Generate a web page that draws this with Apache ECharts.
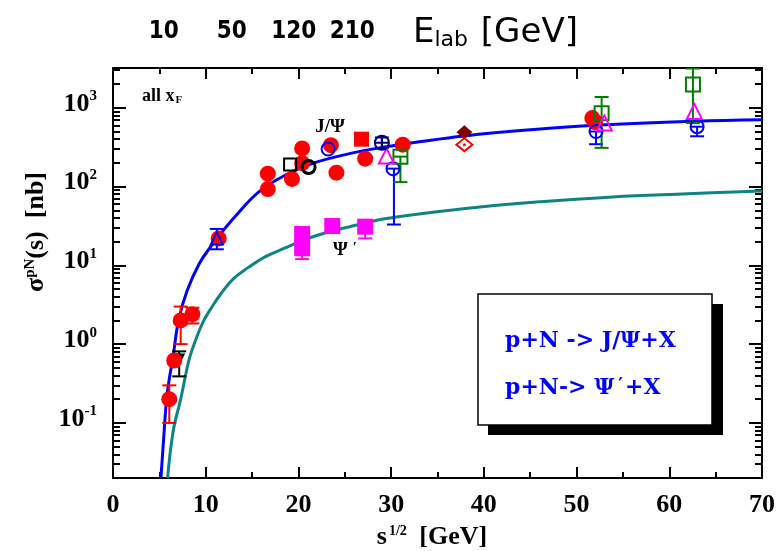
<!DOCTYPE html>
<html>
<head>
<meta charset="utf-8">
<script src="https://cdn.jsdelivr.net/npm/echarts@6/dist/echarts.min.js"></script>
<style>html,body{margin:0;padding:0;background:#fff}#c{width:778px;height:551px}</style>
</head>
<body>
<div id="c"></div>
<script>
// ---- data ----
const jpsiCurve = [[5.17,0.02],[5.45,0.06],[5.78,0.2],[6.1,0.38],[6.43,0.63],[7.07,2.0],[8.0,4.8],[9.3,10.5],[10.5,17],[11.46,24],[13.2,42],[15.7,85],[18.6,140],[21.4,195],[25.4,260],[29.3,318],[33,370],[37.9,440],[45,525],[52.1,600],[62.8,676],[70,707]];
const psipCurve = [[5.89,0.02],[6.5,0.08],[7.3,0.2],[8.2,0.63],[9.0,1.2],[9.8,2.0],[10.7,3.0],[11.6,4.3],[13.0,6.8],[14.65,9.5],[16.5,13],[18.5,16.5],[20.35,20.5],[22.5,25],[24.3,28.6],[27,34],[29.3,39],[33,45],[39.6,55],[46,64],[53.9,74],[62,81],[70,88]];

const redCircles = [[6.07,0.2],[6.6,0.62],[7.3,2.0],[8.56,2.4],[11.4,22],[16.7,146],[16.7,93],[19.3,125],[20.4,305],[20.4,198],[23.5,335],[24.1,150],[27.2,226],[31.25,340],[51.7,740],[52.0,660]];
const redSquares = [[26.8,400]];
const magentaSquares = [[20.4,25],[20.4,16.5],[23.65,31.6],[27.2,31]];
const blueOpenCircles = [[23.2,300],[30.2,169],[52.1,500],[63.0,575]];
const blueOpenTriangles = [[11.2,22]];
const greenOpenSquares = [[31.0,240],[52.7,855],[62.55,1970]];
const magentaOpenTriangles = [[29.5,245],[53.0,640],[62.7,900]];
const darkBlueCrossCircles = [[29.0,360]];
const darkRedDiamonds = [[37.9,490]];
const redOpenDiamonds = [[37.9,340]];
const blackOpenSquares = [[19.1,190]];
const blackOpenCircles = [[21.1,177]];
const blackTrianglesDown = [[7.14,0.64]];

// error bars: [x, low, high]
const redErr = [[6.07,0.1,0.3],[7.3,1.0,3.0],[8.56,1.83,2.9]];
const blackErr = [[7.14,0.39,0.81]];
const blueErr = [[11.2,16,29],[30.3,33,169],[52.1,345,500],[63.0,435,575]];
const magentaErr = [[20.4,12,25],[27.2,22,31]];
const greenErr = [[31.0,114,240],[52.7,310,1370],[62.55,640,3150]];
const darkBlueErr = [[29.0,310,420]];

// axis tick values / labels
const yMajor = [0.1,1,10,100,1000];
const yMinor = [0.02,0.03,0.04,0.05,0.06,0.07,0.08,0.09,0.2,0.3,0.4,0.5,0.6,0.7,0.8,0.9,2,3,4,5,6,7,8,9,20,30,40,50,60,70,80,90,200,300,400,500,600,700,800,900,2000,3000];
const topLabelPos = [5.48,12.82,19.5,25.8];
const topLabelText = ['10','50','120','210'];

// ---- chart ----
const SERIF = "'Liberation Serif','DejaVu Serif',serif";
const chart = echarts.init(document.getElementById('c'), null, {renderer:'canvas'});

function errSeries(data, color) {
  return {
    type:'custom', data:data, z:2, clip:true,
    encode:{x:0, y:[1,2]},
    renderItem:function(params, api){
      const x = api.value(0), lo = api.value(1), hi = api.value(2);
      const a = api.coord([x, lo]), b = api.coord([x, hi]);
      const w = 7;
      const st = {stroke:color, lineWidth:2};
      return {type:'group', children:[
        {type:'line', shape:{x1:a[0],y1:a[1],x2:b[0],y2:b[1]}, style:st},
        {type:'line', shape:{x1:a[0]-w,y1:a[1],x2:a[0]+w,y2:a[1]}, style:st},
        {type:'line', shape:{x1:b[0]-w,y1:b[1],x2:b[0]+w,y2:b[1]}, style:st}
      ]};
    }
  };
}
function filled(data, symbol, size, color, rot) {
  return {type:'scatter', data:data, symbol:symbol, symbolSize:size, symbolRotate:rot||0, z:4,
    itemStyle:{color:color, opacity:1}};
}
function open(data, symbol, size, color, bw) {
  return {type:'scatter', data:data, symbol:symbol, symbolSize:size, z:5,
    itemStyle:{color:'rgba(0,0,0,0)', borderColor:color, borderWidth:bw||2, opacity:1}};
}
function logTickAxis(position, values, len, showLine) {
  return {type:'log', logBase:10, min:0.02, max:3200, position:position,
    axisLine:{show:!!showLine, onZero:false, lineStyle:{color:'#000', width:2}},
    splitLine:{show:false}, axisLabel:{show:false},
    axisTick:{show:true, inside:true, length:len, customValues:values, lineStyle:{color:'#000', width:2}}};
}

const option = {
  animation:false,
  backgroundColor:'#fff',
  grid:{left:113, right:12, top:68, bottom:73},
  xAxis:[
    {type:'value', min:0, max:70, interval:10, position:'bottom',
      axisLine:{show:true, onZero:false, lineStyle:{color:'#000', width:2}},
      axisTick:{show:true, inside:true, length:11, lineStyle:{color:'#000', width:2}},
      minorTick:{show:true, splitNumber:2, length:6, lineStyle:{color:'#000', width:2}},
      splitLine:{show:false}, minorSplitLine:{show:false},
      axisLabel:{margin:14, color:'#000', fontFamily:SERIF, fontWeight:'bold', fontSize:26}},
    {type:'value', min:0, max:70, interval:10, position:'top',
      axisLine:{show:true, onZero:false, lineStyle:{color:'#000', width:2}},
      axisTick:{show:true, inside:true, length:11, lineStyle:{color:'#000', width:2}},
      minorTick:{show:true, splitNumber:2, length:6, lineStyle:{color:'#000', width:2}},
      splitLine:{show:false},
      axisLabel:{customValues:topLabelPos, margin:24, color:'#000',
        fontFamily:"'Liberation Sans Narrow','DejaVu Sans Condensed',sans-serif", fontWeight:'bold', fontSize:24,
        formatter:function(v){const i = topLabelPos.indexOf(v); return i>=0 ? topLabelText[i] : '';}}}
  ],
  yAxis:[
    {type:'log', logBase:10, min:0.02, max:3200, position:'left',
      axisLine:{show:true, onZero:false, lineStyle:{color:'#000', width:2}},
      axisTick:{show:true, inside:true, length:13, customValues:yMajor, lineStyle:{color:'#000', width:2}},
      splitLine:{show:false},
      axisLabel:{customValues:yMajor, margin:16, padding:[0,0,8,0],
        formatter:function(v){return '{m|10}{s|' + Math.round(Math.log10(v)) + '}';},
        rich:{
          m:{fontFamily:SERIF, fontWeight:'bold', fontSize:26, color:'#000', lineHeight:30},
          s:{fontFamily:SERIF, fontWeight:'bold', fontSize:15, color:'#000', lineHeight:16, verticalAlign:'top'}
        }}},
    logTickAxis('left', yMinor, 7, false),
    logTickAxis('right', yMajor, 13, true),
    logTickAxis('right', yMinor, 7, false)
  ],
  series:[
    {type:'line', data:jpsiCurve, showSymbol:false, smooth:0.4, z:1,
      lineStyle:{color:'#0000ff', width:3}},
    {type:'line', data:psipCurve, showSymbol:false, smooth:0.4, z:1,
      lineStyle:{color:'#108484', width:3}},
    errSeries(redErr, '#ff0000'),
    errSeries(blackErr, '#000000'),
    errSeries(blueErr, '#0000ff'),
    errSeries(magentaErr, '#ff00ff'),
    errSeries(greenErr, '#008000'),
    errSeries(darkBlueErr, '#000080'),
    filled(blackTrianglesDown, 'triangle', 12, '#000000', 180),
    filled(magentaSquares, 'rect', 16, '#ff00ff'),
    filled(redSquares, 'rect', 15, '#ff0000'),
    filled(redCircles, 'circle', 16, '#ff0000'),
    filled(darkRedDiamonds, 'diamond', [16,14], '#800000'),
    open(redOpenDiamonds, 'diamond', [16,13], '#ff0000'),
    filled(redOpenDiamonds, 'circle', 3, '#ff0000'),
    open(blueOpenCircles, 'circle', 13, '#0000ff'),
    open(blueOpenTriangles, 'triangle', 12, '#0000ff'),
    open(greenOpenSquares, 'rect', 14, '#008000'),
    open(magentaOpenTriangles, 'triangle', 15, '#ff00ff'),
    open(darkBlueCrossCircles, 'path://M0,-10A10,10,0,1,1,0,10A10,10,0,1,1,0,-10ZM-10,0L10,0M0,-10L0,10', 14, '#000080'),
    open(blackOpenSquares, 'rect', 12, '#000000'),
    open(blackOpenCircles, 'circle', 13, '#000000', 3)
  ],
  graphic:[
    {type:'rect', z:10, shape:{x:488, y:304, width:235, height:131}, style:{fill:'#000'}},
    {type:'rect', z:11, shape:{x:478, y:294, width:234, height:131}, style:{fill:'#fff', stroke:'#000', lineWidth:1.5}},
    {type:'text', z:12, x:505, y:341, style:{text:'p+N -> J/Ψ+X', fill:'#0000ff', font:"bold 22px 'DejaVu Serif',serif", verticalAlign:'middle'}},
    {type:'text', z:12, x:505, y:388, style:{text:'p+N-> Ψ{s|′}+X', fill:'#0000ff', font:"bold 22px 'DejaVu Serif',serif", verticalAlign:'middle',
      rich:{s:{fill:'#0000ff', font:"bold 18px 'DejaVu Serif',serif", verticalAlign:'top', padding:[0,2,0,4]}}}},
    {type:'text', z:12, x:142, y:96, style:{text:'all x{f|F}', fill:'#000', font:"bold 18px "+SERIF, verticalAlign:'middle',
      rich:{f:{fill:'#000', font:"bold 11px "+SERIF, verticalAlign:'bottom', padding:[8,0,0,1]}}}},
    {type:'text', z:12, x:330, y:127, style:{text:'J/Ψ', fill:'#000', font:"bold 19px "+SERIF, align:'center', verticalAlign:'middle'}},
    {type:'text', z:12, x:345, y:250, style:{text:'Ψ{s|′}', fill:'#000', font:"bold 19px "+SERIF, align:'center', verticalAlign:'middle',
      rich:{s:{fill:'#000', font:"bold 15px "+SERIF, verticalAlign:'top', padding:[0,0,0,5]}}}},
    {type:'text', z:12, x:413, y:33, style:{text:'E{s|lab} [GeV]', fill:'#000', font:"34px 'DejaVu Sans',sans-serif", verticalAlign:'middle',
      rich:{s:{fill:'#000', font:"22px 'DejaVu Sans',sans-serif", verticalAlign:'bottom', padding:[14,2,0,0]}}}},
    {type:'text', z:12, x:432, y:537, style:{text:'s{s|1/2} [GeV]', fill:'#000', font:"bold 26px "+SERIF, align:'center', verticalAlign:'middle',
      rich:{s:{fill:'#000', font:"bold 14px "+SERIF, verticalAlign:'top', padding:[0,6,0,2]}}}},
    {type:'text', z:12, x:36, y:232, rotation:Math.PI/2, style:{text:'σ{s|pN}(s)  [nb]', fill:'#000', font:"bold 26px "+SERIF, align:'center', verticalAlign:'middle',
      rich:{s:{fill:'#000', font:"bold 15px "+SERIF, verticalAlign:'top'}}}}
  ]
};
chart.setOption(option);
</script>
</body>
</html>
